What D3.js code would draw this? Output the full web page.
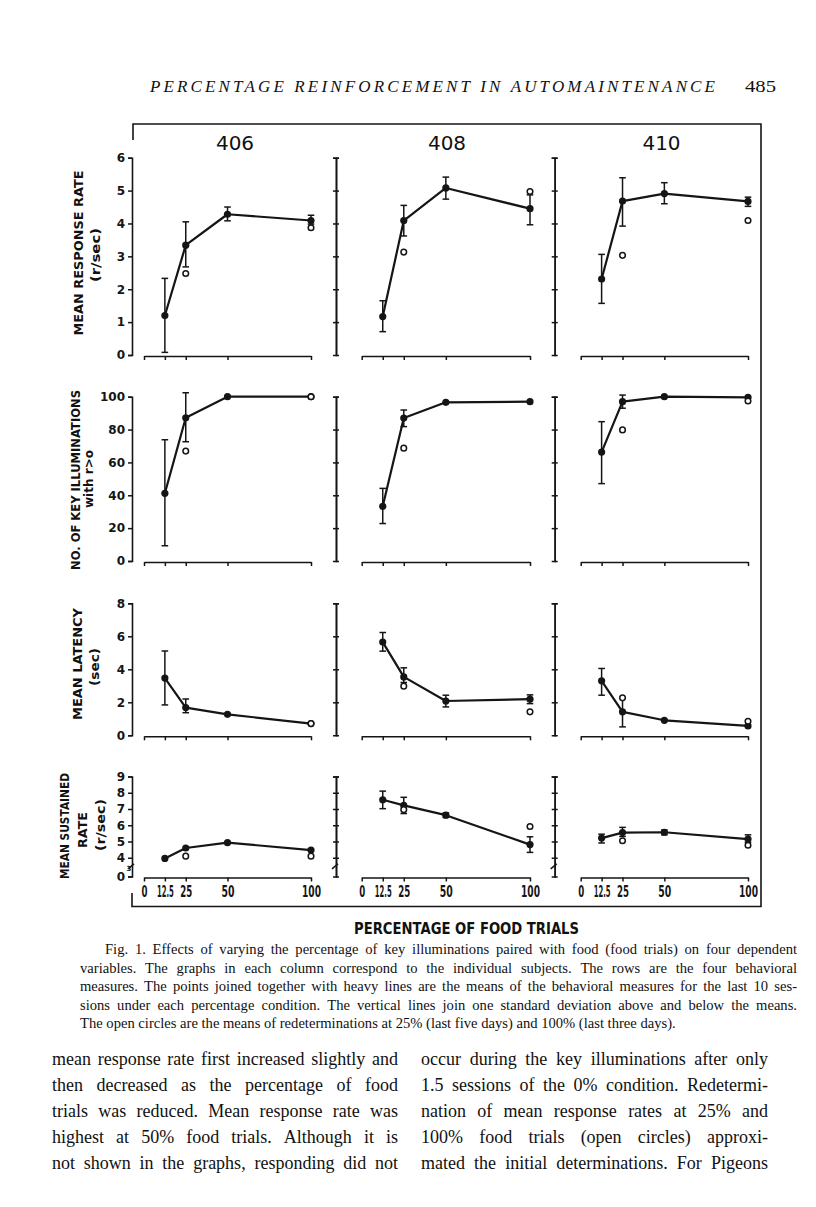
<!DOCTYPE html>
<html><head><meta charset="utf-8">
<script src="https://cdn.jsdelivr.net/npm/d3@7"></script>
<style>
html,body{margin:0;padding:0;background:#fff;}
svg{display:block;}
.cap{font-family:"Liberation Serif","Times New Roman",serif;font-size:14.6px;fill:#111;}
.body{font-family:"Liberation Serif","Times New Roman",serif;font-size:18px;fill:#111;}
.hdr{font-family:"Liberation Serif","Times New Roman",serif;font-size:17px;font-style:italic;fill:#111;}
.pg{font-family:"Liberation Serif","Times New Roman",serif;font-size:16px;fill:#111;}
.rowlab{font-family:"DejaVu Sans",sans-serif;font-weight:bold;font-size:12.5px;fill:#111;}
.xlab{font-family:"DejaVu Sans",sans-serif;font-weight:bold;font-size:15px;fill:#111;}
.subj{font-family:"DejaVu Sans",sans-serif;font-size:20px;fill:#111;}
</style></head>
<body><svg id="c" width="816" height="1207"></svg>
<script>
// ---------------- DATA ----------------
const subjects = ["406", "408", "410"];
const pct = [12.5, 25, 50, 100];
const xTicks = [0, 12.5, 25, 50, 100];
const xTickLabels = ["0", "12.5", "25", "50", "100"];

// Row 1: mean response rate (r/sec)
const rateTicks = [0, 1, 2, 3, 4, 5, 6];
const rateMean = [[1.2, 3.34, 4.28, 4.09], [1.17, 4.09, 5.08, 4.45], [2.31, 4.68, 4.91, 4.67]];
const rateHi   = [[2.33, 4.05, 4.5, 4.25], [1.65, 4.55, 5.41, 4.87], [3.06, 5.39, 5.24, 4.8]];
const rateLo   = [[0.08, 2.68, 4.08, 3.98], [0.71, 3.62, 4.74, 3.96], [1.57, 3.92, 4.6, 4.52]];
const rateOpen = [[null, 2.48, null, 3.87], [null, 3.13, null, 4.97], [null, 3.03, null, 4.09]];

// Row 2: no. of key illuminations with r>0
const keyTicks = [0, 20, 40, 60, 80, 100];
const keyMean = [[41.2, 87.2, 100, 100], [33.3, 87.0, 96.6, 97], [66.3, 97, 100, 99.6]];
const keyHi   = [[73.8, 102.4, null, null], [44.2, 91.9, null, null], [84.8, 101, null, null]];
const keyLo   = [[9.3, 72.6, null, null], [22.8, 81.8, null, null], [47.1, 93, null, null]];
const keyOpen = [[null, 66.9, null, 100], [null, 68.7, null, null], [null, 79.8, null, 97.4]];

// Row 3: mean latency (sec)
const latTicks = [0, 2, 4, 6, 8];
const latMean = [[3.47, 1.68, 1.27, 0.71], [5.65, 3.54, 2.08, 2.19], [3.3, 1.42, 0.91, 0.57]];
const latHi   = [[5.11, 2.2, null, null], [6.23, 4.09, 2.43, 2.45], [4.05, 2.27, null, null]];
const latLo   = [[1.84, 1.37, null, null], [5.1, 3.2, 1.72, 1.92], [2.43, 0.51, null, null]];
const latOpen = [[null, null, null, 0.71], [null, 2.98, null, 1.42], [null, 2.27, null, 0.85]];

// Row 4: mean sustained rate (r/sec)
const susTicks = [0, 4, 5, 6, 7, 8, 9];
const susMean = [[3.96, 4.6, 4.93, 4.47], [7.57, 7.22, 6.62, 4.81], [5.21, 5.55, 5.57, 5.15]];
const susHi   = [[null, null, null, null], [8.1, 7.72, 6.76, 5.29], [5.45, 5.87, 5.71, 5.41]];
const susLo   = [[null, null, null, null], [7.02, 6.72, 6.48, 4.33], [4.91, 5.31, 5.41, 4.95]];
const susOpen = [[null, 4.1, null, 4.1], [null, 6.96, null, 5.92], [null, 5.05, null, 4.77]];

const rowLabels = [["MEAN RESPONSE RATE", "(r/sec)"], ["NO. OF KEY ILLUMINATIONS", "with r>o"], ["MEAN LATENCY", "(sec)"], ["MEAN SUSTAINED", "RATE", "(r/sec)"]];

const headerText = "PERCENTAGE REINFORCEMENT IN AUTOMAINTENANCE";
const pageNumber = "485";
const xAxisTitle = "PERCENTAGE OF FOOD TRIALS";
const captionLines = [
  "Fig. 1. Effects of varying the percentage of key illuminations paired with food (food trials) on four dependent",
  "variables. The graphs in each column correspond to the individual subjects. The rows are the four behavioral",
  "measures. The points joined together with heavy lines are the means of the behavioral measures for the last 10 ses-",
  "sions under each percentage condition. The vertical lines join one standard deviation above and below the means.",
  "The open circles are the means of redeterminations at 25% (last five days) and 100% (last three days)."
];
const bodyLeft = [
  "mean response rate first increased slightly and",
  "then decreased as the percentage of food",
  "trials was reduced. Mean response rate was",
  "highest at 50% food trials. Although it is",
  "not shown in the graphs, responding did not"
];
const bodyRight = [
  "occur during the key illuminations after only",
  "1.5 sessions of the 0% condition. Redetermi-",
  "nation of mean response rates at 25% and",
  "100% food trials (open circles) approxi-",
  "mated the initial determinations. For Pigeons"
];

// ---------------- LAYOUT ----------------
const rowY0 = [355, 561, 735.3, 876.5];
const rowYTop = [157.7, 396.7, 603.3, 776.5];
const colAxisX = [132, 336, 554.7];
const colX0 = [144, 361.7, 580.7];
const colX100 = [311, 530, 748];
const subjX = [235, 447, 661.5];
const xLabWidths = [6, 17, 12, 13, 19];
const rowLabPos = [
  [[83, 253, 165], [100, 255, 54]],
  [[80, 480, 180], [93, 479, 58]],
  [[82, 664, 112], [99, 667, 38]],
  [[69, 826, 106], [87, 830, 36], [105, 825, 52]]
];
const INK = "#151515";

const measures = [
  {mean: rateMean, hi: rateHi, lo: rateLo, open: rateOpen, domain: [0, 6], ticks: rateTicks},
  {mean: keyMean, hi: keyHi, lo: keyLo, open: keyOpen, domain: [0, 100], ticks: keyTicks},
  {mean: latMean, hi: latHi, lo: latLo, open: latOpen, domain: [0, 8], ticks: latTicks},
  {mean: susMean, hi: susHi, lo: susLo, open: susOpen, domain: [0, 3, 9], ticks: susTicks}
];

const svg = d3.select("#c");

function styleAxis(g, fs) {
  g.attr("font-family", "'DejaVu Sans', sans-serif").attr("font-weight", "bold").attr("font-size", fs || 12);
  g.selectAll("path.domain").attr("stroke", INK).attr("stroke-width", 1.6);
  g.selectAll(".tick line").attr("stroke", INK).attr("stroke-width", 1.5);
  g.selectAll(".tick text").attr("fill", INK);
}

measures.forEach((m, r) => {
  subjects.forEach((s, c) => {
    const x = d3.scaleLinear().domain([0, 100]).range([colX0[c], colX100[c]]);
    let y;
    if (m.domain.length === 3) {
      y = d3.scaleLinear().domain(m.domain).range([rowY0[r], rowY0[r] - 2.5, rowYTop[r]]);
    } else {
      y = d3.scaleLinear().domain(m.domain).range([rowY0[r], rowYTop[r]]);
    }
    const g = svg.append("g");

    // y axis
    if (c === 0) {
      const ya = g.append("g").attr("transform", `translate(${colAxisX[c]},0)`)
        .call(d3.axisLeft(y).tickValues(m.ticks).tickSize(4).tickSizeOuter(4).tickPadding(3).tickFormat(d3.format("d")));
      styleAxis(ya);
    } else {
      const tv = m.ticks.filter(v => v !== 0);
      const yl = g.append("g").attr("transform", `translate(${colAxisX[c]},0)`)
        .call(d3.axisLeft(y).tickValues(tv).tickSize(3).tickSizeOuter(3).tickFormat(""));
      const yr = g.append("g").attr("transform", `translate(${colAxisX[c]},0)`)
        .call(d3.axisRight(y).tickValues(tv).tickSize(3).tickSizeOuter(3).tickFormat(""));
      styleAxis(yl); styleAxis(yr);
    }
    if (m.domain.length === 3) {
      // axis break mark
      const yb = y(3.5);
      g.append("line").attr("x1", colAxisX[c] - 4).attr("x2", colAxisX[c] + 2)
        .attr("y1", yb + 3).attr("y2", yb - 2).attr("stroke", INK).attr("stroke-width", 1.5);
      if (c === 0) {
        g.append("text").attr("x", colAxisX[c] - 3).attr("y", y(3) - 3)
          .attr("font-family", "'DejaVu Sans', sans-serif").attr("font-weight", "bold")
          .attr("font-size", 7).attr("text-anchor", "middle").attr("fill", INK).text("3");
      }
    }

    // x axis
    const isBottom = r === measures.length - 1;
    const xa = g.append("g").attr("transform", `translate(0,${y(0) + 1})`)
      .call(d3.axisBottom(x).tickValues(xTicks).tickSize(4).tickSizeOuter(0).tickPadding(5)
        .tickFormat((d, i) => isBottom ? xTickLabels[i] : ""));
    styleAxis(xa);
    if (isBottom) {
      xa.selectAll(".tick text").attr("font-size", 15).each(function(d, i) {
        const w = this.getComputedTextLength();
        const sx = Math.min(1, xLabWidths[i] / w);
        d3.select(this).attr("transform", `scale(${sx},1)`);
      });
    }

    // connecting line
    const pts = pct.map((p, i) => [x(p), y(m.mean[c][i])]);
    g.append("path").attr("d", d3.line()(pts)).attr("fill", "none")
      .attr("stroke", INK).attr("stroke-width", 2.2).attr("stroke-linejoin", "round");

    // error bars
    pct.forEach((p, i) => {
      const hi = m.hi[c][i], lo = m.lo[c][i];
      if (hi == null || lo == null) return;
      const xx = x(p);
      g.append("line").attr("x1", xx).attr("x2", xx).attr("y1", y(lo)).attr("y2", y(hi))
        .attr("stroke", INK).attr("stroke-width", 1.5);
      [hi, lo].forEach(v => {
        g.append("line").attr("x1", xx - 3.3).attr("x2", xx + 3.3).attr("y1", y(v)).attr("y2", y(v))
          .attr("stroke", INK).attr("stroke-width", 1.5);
      });
    });

    // filled means
    g.selectAll("circle.mean").data(pct).join("circle").attr("class", "mean")
      .attr("cx", p => x(p)).attr("cy", (p, i) => y(m.mean[c][i])).attr("r", 3.6).attr("fill", INK);

    // open circles (redeterminations)
    const od = pct.map((p, i) => ({p, v: m.open[c][i]})).filter(d => d.v != null);
    g.selectAll("circle.open").data(od).join("circle").attr("class", "open")
      .attr("cx", d => x(d.p)).attr("cy", d => y(d.v)).attr("r", 2.8)
      .attr("fill", "#fff").attr("stroke", INK).attr("stroke-width", 1.5);
  });

  // row labels
  rowLabels[r].forEach((txt, k) => {
    const [bx, cy, len] = rowLabPos[r][k];
    svg.append("text").attr("class", "rowlab")
      .attr("transform", `translate(${bx},${cy}) rotate(-90)`)
      .attr("text-anchor", "middle").attr("textLength", len).attr("lengthAdjust", "spacingAndGlyphs")
      .text(txt);
  });
});

// subject titles
subjects.forEach((s, c) => {
  svg.append("text").attr("class", "subj").attr("x", subjX[c]).attr("y", 149.5)
    .attr("text-anchor", "middle").text(s);
});

// outer frame
const frame = d3.path();
frame.moveTo(133, 140); frame.lineTo(133, 124); frame.lineTo(761, 124); frame.lineTo(761, 906.5);
frame.lineTo(132, 906.5); frame.lineTo(132, 893);
svg.append("path").attr("d", frame.toString()).attr("fill", "none").attr("stroke", INK).attr("stroke-width", 1.6);

// x axis title
svg.append("text").attr("class", "xlab").attr("x", 466.5).attr("y", 933.5).attr("text-anchor", "middle")
  .attr("textLength", 225).attr("lengthAdjust", "spacingAndGlyphs").text(xAxisTitle);

// header
svg.append("text").attr("class", "hdr").attr("x", 150).attr("y", 92)
  .attr("textLength", 565).attr("lengthAdjust", "spacing").text(headerText);
svg.append("text").attr("class", "pg").attr("x", 776).attr("y", 92).attr("text-anchor", "end")
  .attr("textLength", 31).attr("lengthAdjust", "spacingAndGlyphs").text(pageNumber);

// justified text helper
function drawLine(cls, str, x0, x1, yb, justify) {
  const t = svg.append("text").attr("class", cls).attr("y", yb);
  if (!justify) { t.attr("x", x0).text(str); return; }
  const words = str.split(" ");
  const widths = words.map(w => {
    const tmp = svg.append("text").attr("class", cls).text(w);
    const wd = tmp.node().getComputedTextLength(); tmp.remove(); return wd;
  });
  const gap = (x1 - x0 - d3.sum(widths)) / (words.length - 1);
  let cx = x0;
  words.forEach((w, i) => { t.append("tspan").attr("x", cx).text(w); cx += widths[i] + gap; });
}

captionLines.forEach((ln, i) => {
  drawLine("cap", ln, i === 0 ? 105 : 80, 797, 954 + i * 18.5, i < captionLines.length - 1);
});
bodyLeft.forEach((ln, i) => drawLine("body", ln, 52, 398, 1065 + i * 26, true));
bodyRight.forEach((ln, i) => drawLine("body", ln, 421, 768, 1065 + i * 26, true));
</script>
</body></html>
